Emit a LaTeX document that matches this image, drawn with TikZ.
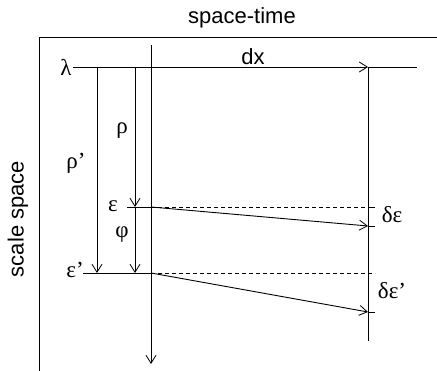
\documentclass[tikz,border=0pt]{standalone}
\usepackage{fontspec}
\setmainfont{Liberation Sans}
\newfontfamily\gr{Liberation Serif}
\usetikzlibrary{arrows.meta}
\tikzset{
  ln/.style={line width=0.9pt},
  arr/.style={line width=0.9pt,-{Straight Barb[length=8pt,width=10pt,line width=0.8pt]}},
  dsh/.style={line width=0.9pt,dash pattern=on 4pt off 3pt},
  lbl/.style={inner sep=0pt,font=\fontsize{22}{24}\selectfont},
  glbl/.style={inner sep=0pt,font=\fontsize{23}{25}\selectfont\gr}
}
\begin{document}
\begin{tikzpicture}[x=1pt,y=-1pt]
\useasboundingbox (0,0) rectangle (437,371);
% frame
\coordinate (F0) at (39,371);
\coordinate (F1) at (39,37);
\coordinate (F2) at (437,37);
\draw[ln] (F0) -- (F1) -- (F2);
% titles
\node[lbl] (st) at (242,18) {space-time};
\node[lbl,rotate=90] (ss) at (18,219) {scale space};
% lambda line
\node[glbl] (lam) at (66,67) {λ};
\coordinate (L0) at (73,67);
\coordinate (Lm) at (151,67);
\coordinate (Lr) at (368,67);
\coordinate (Le) at (417,67);
\draw[ln] (L0) -- (Lm);
\draw[arr] (Lm) -- (Lr);
\draw[ln] (Lr) -- (Le);
\node[lbl] (dx) at (253,57) {dx};
% vertical lines
\coordinate (A0) at (97,67);
\coordinate (A1) at (97,273);
\draw[arr] (A0) -- (A1);
\coordinate (B0) at (135,67);
\coordinate (B1) at (135,207);
\coordinate (B2) at (135,273);
\draw[arr] (B0) -- (B1);
\draw[arr] (B1) -- (B2);
\coordinate (M0) at (151,45);
\coordinate (M1) at (151,364);
\draw[arr] (M0) -- (M1);
\coordinate (R0) at (368,67);
\coordinate (R1) at (368,341);
\draw[ln] (R0) -- (R1);
% epsilon level
\coordinate (E0) at (127,207);
\coordinate (E1) at (151,207);
\coordinate (E2) at (368,207);
\coordinate (E3) at (375,207);
\coordinate (D1) at (368,226);
\coordinate (D1t) at (375,226);
\draw[ln] (E0) -- (E1);
\draw[dsh] (E1) -- (E2);
\draw[ln] (E2) -- (E3);
\draw[arr] (E1) -- (D1);
\draw[ln] (D1) -- (D1t);
% epsilon' level
\coordinate (P0) at (83,273);
\coordinate (P1) at (151,273);
\coordinate (P2) at (375,273);
\coordinate (D2) at (368,312);
\coordinate (D2t) at (375,312);
\draw[ln] (P0) -- (P1);
\draw[dsh] (P1) -- (P2);
\draw[arr] (P1) -- (D2);
\draw[ln] (D2) -- (D2t);
% labels
\node[glbl] (rho) at (122,131) {ρ};
\node[glbl] (rhop) at (76,163) {ρ’};
\node[glbl] (eps) at (113,206) {ε};
\node[glbl] (phi) at (122,235) {φ};
\node[glbl] (epsp) at (75,270) {ε’};
\node[glbl] (de) at (392,215) {δε};
\node[glbl] (dep) at (392,291) {δε’};
\end{tikzpicture}
\end{document}
